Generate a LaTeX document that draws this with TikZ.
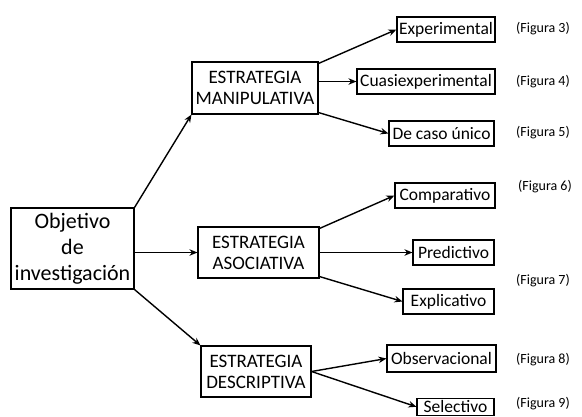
\documentclass[tikz,border=0pt]{standalone}
\usepackage{fontspec}
\setmainfont{Carlito}
\usetikzlibrary{arrows.meta,calc}
\begin{document}
\begin{tikzpicture}[x=1pt,y=-1pt,
  box/.style={draw, line width=1.1pt, inner sep=0pt, align=center},
  big/.style={box, font=\fontsize{22}{26}\selectfont},
  strat/.style={box, font=\fontsize{19}{21}\selectfont},
  leaf/.style={box, font=\fontsize{17.5}{18}\selectfont, minimum height=25pt},
  fig/.style={anchor=west, inner sep=0pt, font=\fontsize{14}{15}\selectfont},
  arr/.style={-{Stealth[length=8pt,width=6.5pt]}, line width=1.4pt}]
\clip (0,0) rectangle (582,416);
\fill[white] (0,0) rectangle (582,416);

\node[big, minimum width=123pt, minimum height=81pt] (obj) at (72.5,248.5) {Objetivo\\de\\investigación};

\node[strat, minimum width=126pt, minimum height=52pt] (man) at (255,88) {ESTRATEGIA\\MANIPULATIVA};
\node[strat, minimum width=121pt, minimum height=51pt] (aso) at (258.5,252.5) {ESTRATEGIA\\ASOCIATIVA};
\node[strat, minimum width=110pt, minimum height=51pt] (des) at (256,371.5) {ESTRATEGIA\\DESCRIPTIVA};

\node[leaf, minimum width=98pt] (exp) at (446,29.5) {Experimental};
\node[leaf, minimum width=138pt] (cua) at (426,81.5) {Cuasiexperimental};
\node[leaf, minimum width=105pt] (dca) at (441.5,133.5) {De caso único};
\node[leaf, minimum width=100pt] (com) at (445,195.5) {Comparativo};
\node[leaf, minimum width=81pt] (pre) at (453.5,252.5) {Predictivo};
\node[leaf, minimum width=91pt] (expl) at (448.5,301.5) {Explicativo};
\node[leaf, minimum width=109pt, minimum height=27pt] (obs) at (441.5,358.5) {Observacional};
\node[leaf, minimum width=77pt, minimum height=16.5pt] (sel) at (455.5,406.8) {Selectivo};

\node[fig] (f3) at (516,29) {(Figura 3)};
\node[fig] (f4) at (516,82) {(Figura 4)};
\node[fig] (f5) at (516,133) {(Figura 5)};
\node[fig] (f6) at (518,187) {(Figura 6)};
\node[fig] (f7) at (516,281) {(Figura 7)};
\node[fig] (f8) at (516,360) {(Figura 8)};
\node[fig] (f9) at (516,404) {(Figura 9)};

\draw[arr] (obj.north east) -- (man.south west);
\draw[arr] (obj.east |- aso.west) -- (aso.west);
\draw[arr] (obj.south east) -- (des.north west);

\draw[arr] ($(man.north east)+(0,2)$) -- (exp.west);
\draw[arr] (man.east |- cua.west) -- (cua.west);
\draw[arr] ($(man.south east)+(0,-2)$) -- (dca.west);

\draw[arr] ($(aso.north east)+(0,2)$) -- (com.west);
\draw[arr] (aso.east) -- (pre.west);
\draw[arr] ($(aso.south east)+(0,-2)$) -- (expl.west);

\draw[arr] (des.east) -- (obs.west);
\draw[arr] (des.east) -- (sel.west);
\end{tikzpicture}
\end{document}
